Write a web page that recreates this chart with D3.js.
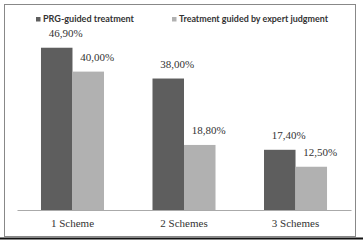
<!DOCTYPE html>
<html><head><meta charset="utf-8">
<script src="https://cdn.jsdelivr.net/npm/d3@7"></script>
<style>body{margin:0;background:#fff}svg{display:block}</style>
</head><body>
<svg id="c" width="363" height="242"></svg>
<script>
const categories = ["1 Scheme", "2 Schemes", "3 Schemes"];
const seriesNames = ["PRG-guided treatment", "Treatment guided by expert judgment"];
const prgValues = [46.9, 38.0, 17.4];
const expertValues = [40.0, 18.8, 12.5];
const valueLabels = [["46,90%", "38,00%", "17,40%"], ["40,00%", "18,80%", "12,50%"]];
const colors = ["#5e5e5e", "#b1b1b1"];

const svg = d3.select("#c");
// frame
svg.append("rect").attr("x", 4.5).attr("y", 4.5).attr("width", 351).attr("height", 232)
  .attr("fill", "none").attr("stroke", "#888").attr("stroke-width", 1);
svg.append("line").attr("x1", 0).attr("x2", 363).attr("y1", 238.5).attr("y2", 238.5)
  .attr("stroke", "#111").attr("stroke-width", 2);

const x0 = d3.scaleBand().domain(categories).range([17, 351]).paddingInner(0.435).paddingOuter(0.215);
const x1 = d3.scaleBand().domain([0, 1]).range([0, x0.bandwidth()]);
const y = d3.scaleLinear().domain([0, 50]).range([210, 37]);

const series = [prgValues, expertValues];
series.forEach((vals, s) => {
  svg.append("g").selectAll("rect").data(vals).join("rect")
    .attr("x", (d, i) => x0(categories[i]) + x1(s))
    .attr("y", d => y(d))
    .attr("width", x1.bandwidth())
    .attr("height", d => y(0) - y(d))
    .attr("fill", colors[s]);
  svg.append("g").selectAll("text").data(vals).join("text")
    .attr("x", (d, i) => x0(categories[i]) + x1(s) + x1.bandwidth() / 2 + 9)
    .attr("y", d => y(d) - 11)
    .attr("text-anchor", "middle")
    .attr("font-family", "Liberation Serif, serif")
    .attr("font-size", 11)
    .attr("fill", "#333")
    .text((d, i) => valueLabels[s][i]);
});

// axis
const ax = svg.append("g").attr("transform", "translate(0,210)")
  .call(d3.axisBottom(x0).tickSize(0).tickPadding(9));
ax.select(".domain").attr("stroke", "#aaa").attr("stroke-width", 1.2);
ax.selectAll("text").attr("font-family", "Liberation Serif, serif").attr("font-size", 11).attr("fill", "#333");

// legend
const legX = [36, 172];
const legLen = [91, 149];
seriesNames.forEach((n, s) => {
  svg.append("rect").attr("x", legX[s]).attr("y", 17).attr("width", 4.5).attr("height", 4.5).attr("fill", colors[s]);
  svg.append("text").attr("x", legX[s] + 7).attr("y", 22)
    .attr("font-family", "Lato, sans-serif").attr("font-size", 9.5).attr("font-weight", 700)
    .attr("textLength", legLen[s]).attr("lengthAdjust", "spacingAndGlyphs")
    .attr("fill", "#333").text(n);
});
</script>
</body></html>
